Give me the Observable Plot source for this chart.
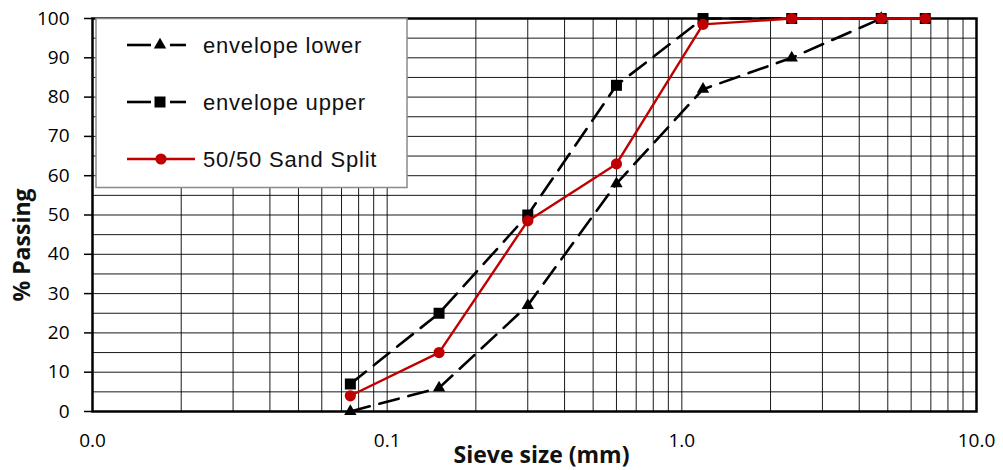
<!DOCTYPE html>
<html><head><meta charset="utf-8">
<script src="https://cdn.jsdelivr.net/npm/d3@7"></script>
<script src="https://cdn.jsdelivr.net/npm/@observablehq/plot@0.6"></script>
<style>body{margin:0;background:#fff} #chart{width:1003px;height:470px}</style>
</head><body><div id="chart"></div>
<script>
// ---- data ----
const sieveSizes = [0.075, 0.15, 0.3, 0.6, 1.18, 2.36, 4.75, 6.7];
const envelopeLower = [0, 6, 27, 58, 82, 90, 100];
const envelopeUpper = [7, 25, 50, 83, 100, 100, 100, 100];
const sandSplit = [4, 15, 48.5, 63, 98.5, 100, 100, 100];
const seriesNames = ["envelope lower", "envelope upper", "50/50 Sand Split"];
const xTickValues = [0.01, 0.1, 1, 10];
const xGridValues = [0.02,0.03,0.04,0.05,0.06,0.07,0.08,0.09,0.1,0.2,0.3,0.4,0.5,0.6,0.7,0.8,0.9,1,2,3,4,5,6,7,8,9];
const yTickValues = [0,10,20,30,40,50,60,70,80,90,100];
const yGridValues = [0,5,10,15,20,25,30,35,40,45,50,55,60,65,70,75,80,85,90,95,100];

const toRows = (vals) => vals.map((v, i) => ({size: sieveSizes[i], pass: v}));
const lowerRows = toRows(envelopeLower);
const upperRows = toRows(envelopeUpper);
const sandRows = toRows(sandSplit);

const red = "#c00000";
const chart = Plot.plot({
  width: 1003, height: 470,
  marginLeft: 92, marginRight: 27, marginTop: 18, marginBottom: 59,
  style: {fontFamily: "'Open Sans', sans-serif", fontSize: "19px", color: "#000", background: "#fff", overflow: "visible"},
  x: {type: "log", domain: [0.01, 10]},
  y: {domain: [0, 100]},
  marks: [
    Plot.ruleX(xGridValues, {stroke: "#000", strokeWidth: 1, strokeOpacity: 0.9}),
    Plot.ruleY(yGridValues, {stroke: "#000", strokeWidth: 1, strokeOpacity: 0.9}),
    Plot.axisX(xTickValues, {tickSize: 0, tickPadding: 22, tickFormat: d3.format(".1f"), label: null, fontSize: 19}),
    Plot.axisY(yTickValues, {tickSize: 8, tickPadding: 15, tickFormat: d => String(d), label: null, fontSize: 19, strokeWidth: 1.5}),
    Plot.frame({stroke: "#000", strokeWidth: 2.5}),
    Plot.line(lowerRows, {x: "size", y: "pass", stroke: "#000", strokeWidth: 2.6, strokeDasharray: "20,10"}),
    Plot.dot(lowerRows, {x: "size", y: "pass", symbol: "triangle", r: 4.6, fill: "#000"}),
    Plot.line(upperRows, {x: "size", y: "pass", stroke: "#000", strokeWidth: 2.6, strokeDasharray: "20,10"}),
    Plot.dot(upperRows, {x: "size", y: "pass", symbol: "square", r: 6.2, fill: "#000"}),
    Plot.line(sandRows, {x: "size", y: "pass", stroke: red, strokeWidth: 2.4}),
    Plot.dot(sandRows, {x: "size", y: "pass", symbol: "circle", r: 5.6, fill: red}),
    Plot.text(["Sieve size (mm)"], {frameAnchor: "bottom", dy: 44, dx: 7, textAnchor: "middle", lineAnchor: "middle", fontWeight: "bold", fontSize: 23, fill: "#111"}),
    Plot.text(["% Passing"], {frameAnchor: "left", dx: -70, dy: 30, rotate: -90, textAnchor: "middle", lineAnchor: "middle", fontWeight: "bold", fontSize: 23, fill: "#111"})
  ]
});
document.getElementById("chart").appendChild(chart);

// ---- legend (inside plot area, top-left) ----
const svg = d3.select(chart);
const lg = svg.append("g");
lg.append("rect").attr("x", 96).attr("y", 18.5).attr("width", 311).attr("height", 169)
  .attr("fill", "#fff").attr("stroke", "#8a8a8a").attr("stroke-width", 1.5);
const symbols = [d3.symbolTriangle, d3.symbolSquare, d3.symbolCircle];
const radii = [4.6, 6.2, 5.6];
const colors = ["#000", "#000", red];
seriesNames.forEach((name, i) => {
  const cy = 45 + i * 57;
  if (i < 2) {
    lg.append("line").attr("x1", 127).attr("x2", 151).attr("y1", cy).attr("y2", cy).attr("stroke", "#000").attr("stroke-width", 2.6);
    lg.append("line").attr("x1", 170).attr("x2", 186).attr("y1", cy).attr("y2", cy).attr("stroke", "#000").attr("stroke-width", 2.6);
  } else {
    lg.append("line").attr("x1", 127).attr("x2", 195).attr("y1", cy).attr("y2", cy).attr("stroke", red).attr("stroke-width", 2.4);
  }
  lg.append("path").attr("transform", `translate(${i < 2 ? 160 : 161},${cy})`)
    .attr("d", d3.symbol(symbols[i], Math.PI * radii[i] * radii[i])()).attr("fill", colors[i]);
  lg.append("text").attr("x", 203).attr("y", cy + 8).text(name)
    .attr("text-anchor", "start")
    .attr("font-family", "'Liberation Sans', Arial, sans-serif").attr("font-size", 22)
    .attr("letter-spacing", "0.8px").attr("fill", "#111");
});
</script>
</body></html>
